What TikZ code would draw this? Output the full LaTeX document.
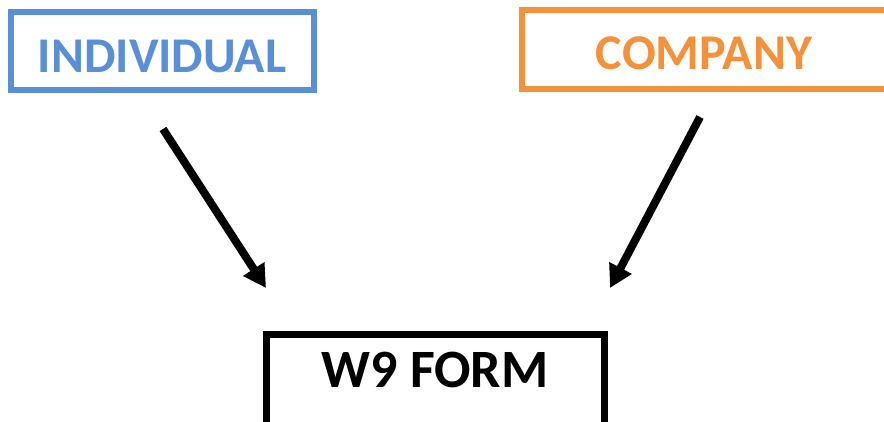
\documentclass[tikz,border=0pt]{standalone}
\usepackage{fontspec}
\setmainfont{Carlito}
\usetikzlibrary{arrows.meta}

\definecolor{indivblue}{RGB}{88,143,214}
\definecolor{comporange}{RGB}{244,145,58}

\tikzset{
	box/.style={draw, line width=4.9pt, minimum width=#1, inner sep=0pt},
	boxtext/.style={font=\bfseries\fontsize{37.5pt}{40pt}\selectfont, inner sep=0pt},
	arr/.style={line width=6pt, -{Triangle[length=17pt,width=18pt]}}
}

\begin{document}
\begin{tikzpicture}[x=0.75pt,y=-0.75pt]
				\useasboundingbox (0,0) rectangle (884,421);
				\clip (0,0) rectangle (884,421);
				
				% boxes
				\node[box=227.25pt, minimum height=58.5pt, draw=indivblue] (indivbox) at (162.5,51) {};
				\node[box=276pt, minimum height=59.25pt, draw=comporange] (compbox) at (706,49.5) {};
				\node[box=253.5pt, minimum height=79.5pt, line width=5.25pt] (formbox) at (435,387) {};
				
				% labels
				\node[boxtext, text=indivblue] (indiv) at (162,56) {INDIVIDUAL};
				\node[boxtext, text=comporange] (comp) at (704,53.5) {COMPANY};
				\node[boxtext, font=\bfseries\fontsize{40.5pt}{43pt}\selectfont] (form) at (435,370) {W9 FORM};
				
				% arrows
				\coordinate (indivout) at (163,129);
				\coordinate (indivin) at (266,288);
				\coordinate (compout) at (700,117);
				\coordinate (compin) at (610,288);
				\draw[arr] (indivout) -- (indivin);
				\draw[arr] (compout) -- (compin);
			\end{tikzpicture}
\end{document}
